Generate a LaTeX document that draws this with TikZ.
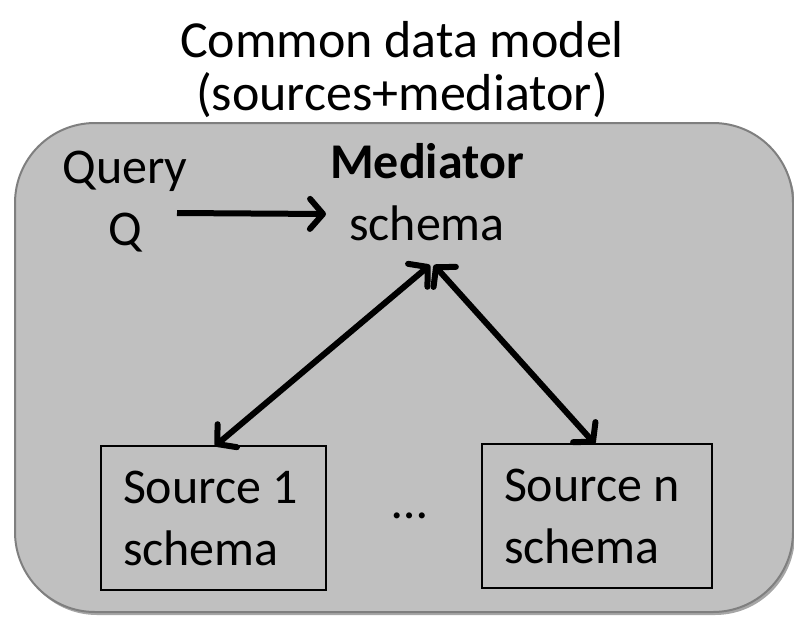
\documentclass[tikz,border=0pt]{standalone}
\usepackage{fontspec}
\setmainfont{Carlito}
\usetikzlibrary{arrows.meta,shadows}
\definecolor{panel}{HTML}{C0C0C0}
\definecolor{panelborder}{HTML}{7F7F7F}
\begin{document}
\begin{tikzpicture}[x=1pt,y=-1pt,
  big/.style={font=\fontsize{50}{62}\selectfont, inner sep=0pt},
  ttl/.style={font=\fontsize{52}{53}\selectfont, inner sep=0pt, align=center},
  tipb/.tip={Straight Barb[length=13pt,width=30pt,round]},
  conn/.style={line width=6pt, -tipb},
  biconn/.style={line width=6pt, tipb-tipb},
  srcbox/.style={draw=black, line width=1.8pt, minimum height=144pt,
     inner xsep=22pt, inner ysep=0pt, align=flush left,
     font=\fontsize{50}{62}\selectfont},
  framebox/.style={draw=panelborder, line width=2pt, fill=panel,
     rounded corners=80pt, minimum width=778pt, minimum height=489pt,
     drop shadow={shadow xshift=2pt, shadow yshift=-3pt, fill=black, opacity=0.35}}
]
\useasboundingbox (0,0) rectangle (794,616);
\node[framebox] (frame) at (404,367.5) {};
\node[ttl, anchor=base] (title) at (402,110) {Common data model\\(sources+mediator)};
\node[big, align=center, anchor=base] (query) at (125,245) {Query\\Q};
\node[big, align=center, anchor=base] (mediator) at (427,240) {\textbf{Mediator}\\schema};
\node[srcbox, text width=181pt] (src1) at (213.5,518) {Source 1\\schema};
\node[srcbox, text width=186pt] (srcn) at (597,516) {Source n\\schema};
\node[big, anchor=base] (dots) at (410,518) {…};
\coordinate (qs) at (177,213);
\coordinate (qe) at (326,214);
\coordinate (mtipL) at (430,265);
\coordinate (mtipR) at (434,265);
\coordinate (s1tip) at (215,446);
\coordinate (sntip) at (595,444);
\draw[conn] (qs) -- (qe);
\draw[biconn] (s1tip) -- (mtipL);
\draw[biconn] (sntip) -- (mtipR);
\end{tikzpicture}
\end{document}
